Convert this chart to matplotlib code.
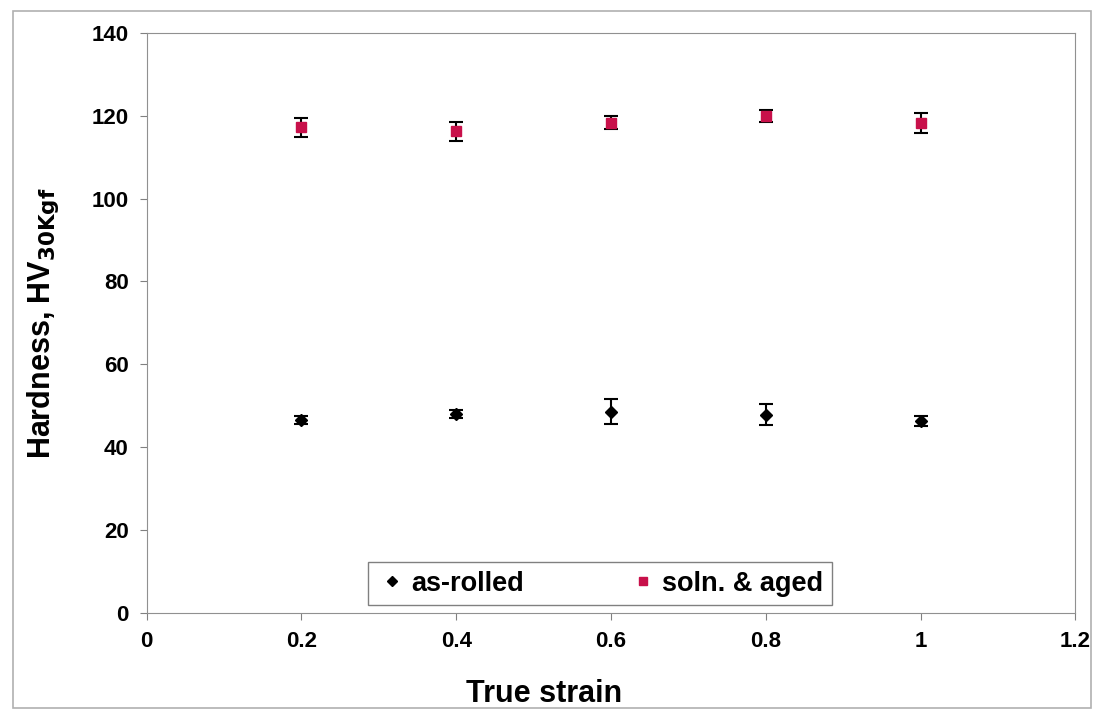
import matplotlib.pyplot as plt
from matplotlib.patches import Rectangle
from matplotlib.lines import Line2D

plt.rcParams['font.family'] = ['Liberation Sans', 'DejaVu Sans']
plt.rcParams['font.weight'] = 'bold'

strain = [0.2, 0.4, 0.6, 0.8, 1.0]
as_rolled = [46.5, 48.0, 48.5, 47.8, 46.3]
as_rolled_err = [1.0, 1.0, 3.0, 2.5, 1.2]
aged = [117.2, 116.3, 118.3, 120.0, 118.2]
aged_err = [2.3, 2.3, 1.6, 1.5, 2.4]

fig = plt.figure(figsize=(10.94, 7.15), dpi=100)
fig.patches.append(Rectangle((0.012, 0.01), 0.985, 0.975, transform=fig.transFigure,
                             fill=False, edgecolor='#b0b0b0', linewidth=1.2))
ax = fig.add_axes([0.134, 0.143, 0.849, 0.811])

ax.errorbar(strain, as_rolled, yerr=as_rolled_err, fmt='D', color='black',
            markersize=6, capsize=5, capthick=1.5, elinewidth=1.5)
ax.errorbar(strain, aged, yerr=aged_err, fmt='s', color='#c8104a', ecolor='black',
            markersize=6.5, capsize=5, capthick=1.5, elinewidth=1.5)

ax.set_xlim(0, 1.2)
ax.set_ylim(0, 140)
ax.set_xticks([0, 0.2, 0.4, 0.6, 0.8, 1, 1.2])
ax.set_xticklabels(['0', '0.2', '0.4', '0.6', '0.8', '1', '1.2'])
ax.set_yticks(range(0, 141, 20))
ax.tick_params(labelsize=16, direction='out', length=5, color='#808080', pad=8)
for lbl in ax.get_xticklabels() + ax.get_yticklabels():
    lbl.set_fontweight('bold')

for s in ax.spines.values():
    s.set_color('#909090')

ax.set_xlabel('True strain', fontsize=22, fontweight='bold')
ax.xaxis.set_label_coords(0.428, -0.115)
ax.set_ylabel('Hardness, HV$_{\\mathbf{30Kgf}}$', fontsize=22, fontweight='bold', labelpad=22)

handles = [Line2D([], [], ls='none', marker='D', color='black', markersize=5),
           Line2D([], [], ls='none', marker='s', color='#c8104a', markersize=6)]
leg = ax.legend(handles, ['as-rolled', 'soln. & aged'], loc='lower center',
                bbox_to_anchor=(0.488, 0.014), borderaxespad=0, ncol=2, fontsize=19.5,
                frameon=True, fancybox=False, edgecolor='#606060', handletextpad=0.1,
                columnspacing=3.8, borderpad=0.3, handlelength=1.2)
leg.get_frame().set_linewidth(1.0)
for t in leg.get_texts():
    t.set_fontweight('bold')

plt.savefig('out.png', dpi=100)
